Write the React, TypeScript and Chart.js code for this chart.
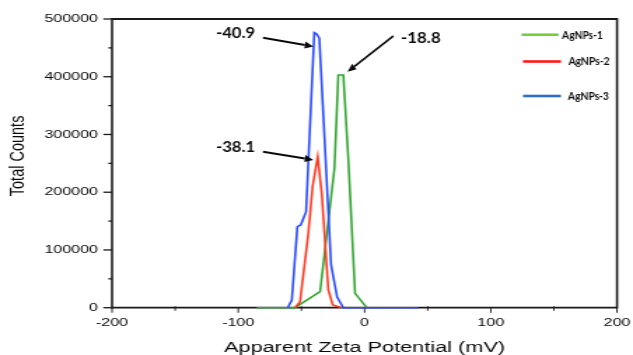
import React, { useEffect, useRef } from "react";
import { Chart, registerables } from "chart.js";

Chart.register(...registerables);

// ---------- data ----------
const seriesNames = ["AgNPs-1", "AgNPs-2", "AgNPs-3"];

const agnps1X = [-85.4, -55.1, -35.2, -23.8, -20.8, -16.8, -12.8, -7.5, 1.7];
const agnps1Y = [0, 0, 27700, 242000, 403000, 403000, 255800, 24900, 0];

const agnps2X = [-55.1, -51.1, -44.5, -41.1, -37.1, -33.9, -28.7, -25.2, -18.1];
const agnps2Y = [0, 10400, 128800, 210800, 261500, 198100, 30700, 4700, 0];

const agnps3X = [-60.8, -57.6, -53.2, -50.5, -46.3, -39.8, -37.9, -35.8, -26.5, -21.7, -16.8, 42.4];
const agnps3Y = [0, 13300, 140300, 143200, 166300, 476300, 474000, 466600, 74000, 18500, 0, 0];

const xTickValues = [-200, -100, 0, 100, 200];
const yTickValues = [0, 100000, 200000, 300000, 400000, 500000];

const peakLabels = ["-40.9", "-38.1", "-18.8"];

const xTitle = "Apparent Zeta Potential (mV)";
const yTitle = "Total Counts";

// ---------- layout / style ----------
const DISPLAY_W = 633;
const DISPLAY_H = 355;
const CW = 452; // intrinsic width; the reference is stretched horizontally
const S = DISPLAY_W / CW;
const CH = DISPLAY_H;

const curveColors = ["#33a532", "#ff3a22", "#2a4bff"];
const legendColors = ["#7acc3f", "#ff1a1a", "#2f6fbf"];
const AXIS_COLOR = "#1a1a1a";
const TEXT_COLOR = "#0a0a0a";

// annotation placement in data coordinates (text centre, arrow tail, arrow tip)
const annotationLayout = [
  { text: [-102.2, 475200], tail: [-80.4, 467600], tip: [-40.6, 452500], size: 15, width: 39 },
  { text: [-102.2, 278300], tail: [-80.4, 270200], tip: [-40.6, 256000], size: 15, width: 39 },
  { text: [44.6, 468000], tail: [22.8, 470600], tip: [-13.4, 408700], size: 16, width: 39.7 },
];

const legendLayout = [
  { x1: 521.5, x2: 558.5, y: 34.7, tx: 562, ty: 35.3 },
  { x1: 523, x2: 561, y: 61.5, tx: 568.5, ty: 61.7 },
  { x1: 523, x2: 561, y: 96, tx: 568, ty: 96.8 },
];

function toPoints(xs: number[], ys: number[]) {
  return xs.map((x, i) => ({ x, y: ys[i] }));
}

function midpoints(vals: number[]) {
  const out: number[] = [];
  for (let i = 0; i < vals.length - 1; i++) out.push((vals[i] + vals[i + 1]) / 2);
  return out;
}

function seg(ctx: CanvasRenderingContext2D, x1: number, y1: number, x2: number, y2: number) {
  ctx.beginPath();
  ctx.moveTo(x1, y1);
  ctx.lineTo(x2, y2);
  ctx.stroke();
}

function fitText(
  ctx: CanvasRenderingContext2D,
  text: string,
  x: number,
  y: number,
  font: string,
  targetW: number,
  align: CanvasTextAlign
) {
  ctx.font = font;
  const w = ctx.measureText(text).width;
  const k = w > 0 ? targetW / w : 1;
  ctx.save();
  ctx.translate(x, y);
  ctx.scale(k, 1);
  ctx.textAlign = align;
  ctx.textBaseline = "middle";
  ctx.fillText(text, 0, 0);
  ctx.restore();
}

const decorPlugin = {
  id: "decor",
  beforeDatasetsDraw(chart: any) {
    const { ctx, chartArea: a, scales } = chart;
    const xs = scales.x;
    const ys = scales.y;
    ctx.save();
    ctx.scale(1 / S, 1);
    const L = a.left * S;
    const R = a.right * S;
    const T = a.top;
    const B = a.bottom;
    ctx.strokeStyle = AXIS_COLOR;
    ctx.lineWidth = 2.2;
    seg(ctx, L, T - 0.9, L, B + 0.9);
    seg(ctx, R, T - 0.9, R, B + 0.9);
    ctx.lineWidth = 1.8;
    seg(ctx, L, T, R, T);
    seg(ctx, L, B, R, B);
    ctx.lineWidth = 1.3;
    yTickValues.forEach((v) => {
      const py = ys.getPixelForValue(v);
      seg(ctx, L - 8.7, py, L, py);
    });
    midpoints(yTickValues).forEach((v) => {
      const py = ys.getPixelForValue(v);
      seg(ctx, L - 3.7, py, L, py);
    });
    xTickValues.forEach((v) => {
      const px = xs.getPixelForValue(v) * S;
      seg(ctx, px, B, px, B + 5);
    });
    midpoints(xTickValues).forEach((v) => {
      const px = xs.getPixelForValue(v) * S;
      seg(ctx, px, B - 1.5, px, B + 3);
    });
    ctx.restore();
  },
  afterDatasetsDraw(chart: any) {
    const { ctx, scales } = chart;
    const xs = scales.x;
    const ys = scales.y;

    // y axis title (drawn in intrinsic space so it stretches like the reference)
    ctx.save();
    ctx.translate(18 / S, 155.9);
    ctx.rotate(-Math.PI / 2);
    ctx.font = '14.5px "Liberation Sans", Arial, sans-serif';
    ctx.fillStyle = TEXT_COLOR;
    ctx.textAlign = "center";
    ctx.textBaseline = "middle";
    ctx.fillText(yTitle, 0, 0);
    ctx.restore();

    // annotations and legend in display space
    ctx.save();
    ctx.scale(1 / S, 1);
    ctx.fillStyle = TEXT_COLOR;
    ctx.strokeStyle = TEXT_COLOR;
    annotationLayout.forEach((an, i) => {
      const tx = xs.getPixelForValue(an.text[0]) * S;
      const ty = ys.getPixelForValue(an.text[1]);
      fitText(ctx, peakLabels[i], tx, ty, `bold ${an.size}px Lato, "Open Sans", sans-serif`, an.width, "center");
      const x1 = xs.getPixelForValue(an.tail[0]) * S;
      const y1 = ys.getPixelForValue(an.tail[1]);
      const x2 = xs.getPixelForValue(an.tip[0]) * S;
      const y2 = ys.getPixelForValue(an.tip[1]);
      const ang = Math.atan2(y2 - y1, x2 - x1);
      const headLen = 8.5;
      const headW = 3.6;
      const bx = x2 - headLen * Math.cos(ang);
      const by = y2 - headLen * Math.sin(ang);
      ctx.lineWidth = 2;
      seg(ctx, x1, y1, bx, by);
      ctx.beginPath();
      ctx.moveTo(x2, y2);
      ctx.lineTo(bx + headW * Math.sin(ang), by - headW * Math.cos(ang));
      ctx.lineTo(bx - headW * Math.sin(ang), by + headW * Math.cos(ang));
      ctx.closePath();
      ctx.fill();
    });

    legendLayout.forEach((lg, i) => {
      ctx.strokeStyle = legendColors[i];
      ctx.lineWidth = 2.6;
      seg(ctx, lg.x1, lg.y, lg.x2, lg.y);
      ctx.fillStyle = TEXT_COLOR;
      fitText(ctx, seriesNames[i], lg.tx, lg.ty, 'bold 10.5px Lato, "Open Sans", sans-serif', 41, "left");
    });
    ctx.restore();
  },
};

export default function App() {
  const ref = useRef<HTMLCanvasElement | null>(null);

  useEffect(() => {
    document.body.style.margin = "0";
    const canvas = ref.current;
    if (!canvas) return;
    const datasets = [
      { label: seriesNames[2], data: toPoints(agnps3X, agnps3Y), borderColor: curveColors[2], order: 0 },
      { label: seriesNames[1], data: toPoints(agnps2X, agnps2Y), borderColor: curveColors[1], order: 1 },
      { label: seriesNames[0], data: toPoints(agnps1X, agnps1Y), borderColor: curveColors[0], order: 2 },
    ].map((d) => ({
      ...d,
      borderWidth: 1.6,
      pointRadius: 0,
      tension: 0,
      fill: false,
      clip: false as any,
    }));

    const chart = new Chart(canvas, {
      type: "line",
      data: { datasets },
      options: {
        responsive: false,
        devicePixelRatio: 1,
        animation: false,
        layout: { padding: { top: 19, right: CW - 617 / S, left: 0, bottom: 0 } },
        plugins: {
          legend: { display: false },
          tooltip: { enabled: false },
        },
        scales: {
          x: {
            type: "linear",
            min: -200,
            max: 200,
            afterBuildTicks: (s: any) => {
              s.ticks = xTickValues.map((v) => ({ value: v }));
            },
            afterFit: (s: any) => {
              s.height = CH - 307.7;
              s.paddingLeft = 0;
              s.paddingRight = 0;
            },
            ticks: {
              autoSkip: false,
              maxRotation: 0,
              padding: 8.5,
              color: TEXT_COLOR,
              font: { family: '"Liberation Sans", Arial, sans-serif', size: 11.5 },
              callback: (v: any) => String(v),
            },
            grid: { display: false, drawTicks: false },
            border: { display: false },
            title: {
              display: true,
              text: xTitle,
              color: TEXT_COLOR,
              font: { family: '"Liberation Sans", Arial, sans-serif', size: 15.5, lineHeight: 0.9 },
              padding: { top: 0, bottom: 0 },
            },
          },
          y: {
            type: "linear",
            min: 0,
            max: 500000,
            afterBuildTicks: (s: any) => {
              s.ticks = yTickValues.map((v) => ({ value: v }));
            },
            afterFit: (s: any) => {
              s.width = 80;
              s.paddingTop = 0;
              s.paddingBottom = 0;
            },
            ticks: {
              autoSkip: false,
              padding: 10,
              color: TEXT_COLOR,
              font: { family: '"Liberation Sans", Arial, sans-serif', size: 11.5 },
              callback: (v: any) => String(v),
            },
            grid: { display: false, drawTicks: false },
            border: { display: false },
            title: { display: false },
          },
        },
      },
      plugins: [decorPlugin],
    } as any);

    return () => chart.destroy();
  }, []);

  return (
    <canvas
      ref={ref}
      width={CW}
      height={CH}
      style={{ display: "block", width: DISPLAY_W + "px", height: DISPLAY_H + "px" }}
    />
  );
}
